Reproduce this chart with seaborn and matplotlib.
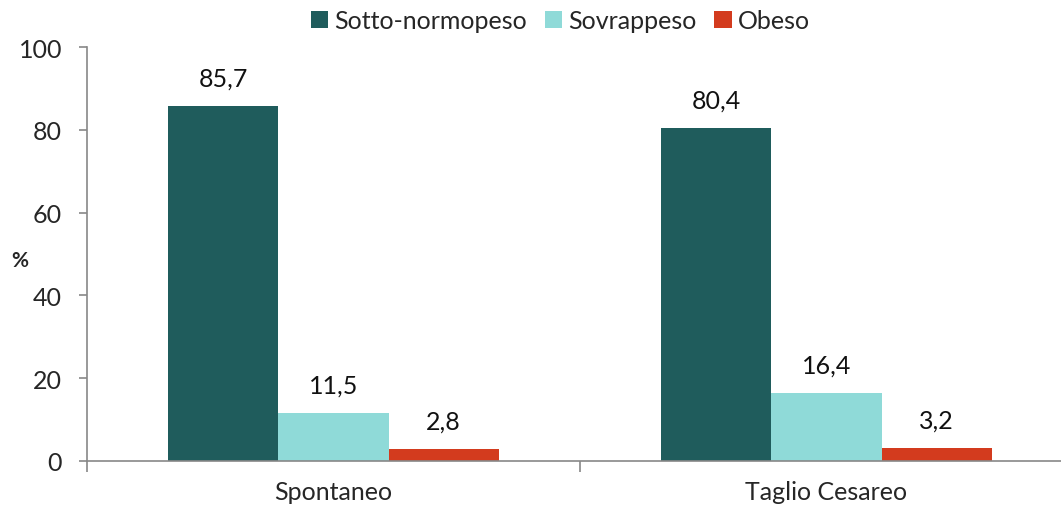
import pandas as pd
import matplotlib
matplotlib.use("Agg")
import matplotlib.pyplot as plt
import seaborn as sns

categories = ["Spontaneo", "Taglio Cesareo"]
series = ["Sotto-normopeso", "Sovrappeso", "Obeso"]
sotto = [85.7, 80.4]
sovra = [11.5, 16.4]
obeso = [2.8, 3.2]
colors = ["#1F5C5C", "#8FDAD8", "#D33B1E"]

rows = []
for name, vals in zip(series, [sotto, sovra, obeso]):
    for cat, v in zip(categories, vals):
        rows.append({"Parto": cat, "Classe": name, "Valore": v})
df = pd.DataFrame(rows)

sns.set_theme(style="white")
plt.rcParams["font.family"] = ["Lato", "DejaVu Sans"]
FS = 18

fig = plt.figure(figsize=(10.61, 5.10), dpi=100)
ax = fig.add_axes([87 / 1061, 48 / 510, 986 / 1061, 414 / 510])

sns.barplot(data=df, x="Parto", y="Valore", hue="Classe", hue_order=series,
            palette=colors, width=0.67, saturation=1, linewidth=0, ax=ax, legend=True)

ax.set_xlim(-0.5, 1.5)
ax.set_ylim(0, 100)
ax.set_yticks([0, 20, 40, 60, 80, 100])
ax.tick_params(axis="y", labelsize=FS, length=6, width=1.2, color="#888888", direction="out", left=True, pad=12)
ax.tick_params(axis="x", labelsize=FS, length=0, pad=14)
ax.set_xticks([0, 1])
ax.set_xticklabels(categories)
# category boundary ticks
ax.set_xticks([-0.5, 0.5, 1.5], minor=True)
ax.tick_params(axis="x", which="minor", length=8, width=1.2, color="#888888", direction="out", bottom=True)

for s in ["top", "right"]:
    ax.spines[s].set_visible(False)
for s in ["left", "bottom"]:
    ax.spines[s].set_color("#888888")
    ax.spines[s].set_linewidth(1.2)

ax.set_xlabel("")
ax.set_ylabel("%", rotation=0, fontsize=15, fontweight="bold", va="center")
ax.yaxis.set_label_coords(-0.068, 0.485)

for cont in ax.containers:
    for bar in cont:
        h = bar.get_height()
        ax.annotate(f"{h:.1f}".replace(".", ","), (bar.get_x() + bar.get_width() / 2, h),
                    xytext=(0, 12), textcoords="offset points", ha="center", va="bottom",
                    fontsize=FS, color="#111111")

ax.legend(loc="center", bbox_to_anchor=(0.48, 1.063), ncol=3, frameon=False,
          fontsize=FS, handlelength=0.7, handleheight=0.7, handletextpad=0.25,
          columnspacing=0.7, borderaxespad=0, borderpad=0)

fig.savefig("out.png", dpi=100)
